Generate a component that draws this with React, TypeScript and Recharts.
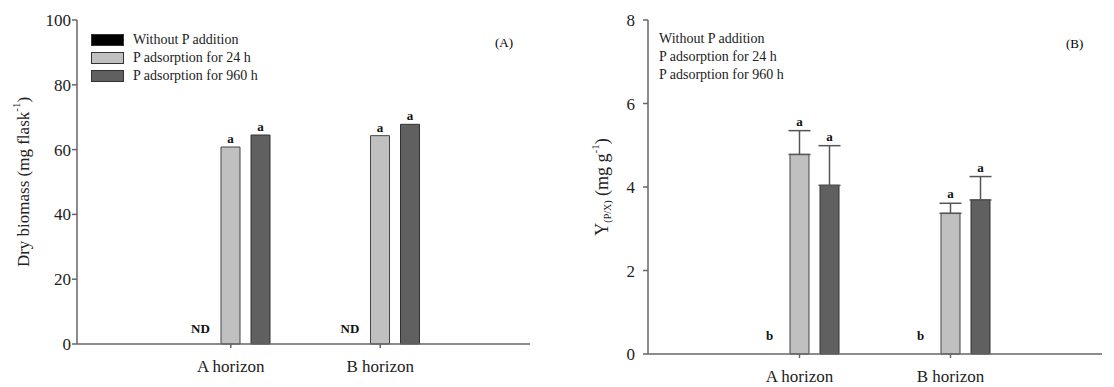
import { BarChart, Bar, XAxis, YAxis, ErrorBar, LabelList } from 'recharts'

const HORIZONS = ['A horizon', 'B horizon']
const SERIES_NAMES = ['Without P addition', 'P adsorption for 24 h', 'P adsorption for 960 h']

// (A) dry biomass, mg flask-1
const BIOMASS_NONE = [0, 0]
const BIOMASS_24H = [60.8, 64.3]
const BIOMASS_960H = [64.5, 67.8]
const BIOMASS_LETTERS_NONE = ['ND', 'ND']
const BIOMASS_LETTERS_24H = ['a', 'a']
const BIOMASS_LETTERS_960H = ['a', 'a']
const BIOMASS_TICKS = [0, 20, 40, 60, 80, 100]

// (B) Y(P/X), mg g-1
const YIELD_NONE = [0, 0]
const YIELD_24H = [4.78, 3.37]
const YIELD_960H = [4.04, 3.69]
const YIELD_24H_SE = [0.57, 0.24]
const YIELD_960H_SE = [0.95, 0.56]
const YIELD_LETTERS_NONE = ['b', 'b']
const YIELD_LETTERS_24H = ['a', 'a']
const YIELD_LETTERS_960H = ['a', 'a']
const YIELD_TICKS = [0, 2, 4, 6, 8]

const FONT = 'Liberation Serif'
const AXIS = '#666'
const COLORS = ['#000000', '#c0c0c0', '#606060']
const BAR_STEP = 30 // barSize + barGap

const biomassData = HORIZONS.map((h, i) => ({
  horizon: h,
  none: BIOMASS_NONE[i],
  h24: BIOMASS_24H[i],
  h960: BIOMASS_960H[i],
}))

const yieldData = HORIZONS.map((h, i) => ({
  horizon: h,
  none: YIELD_NONE[i],
  h24: YIELD_24H[i],
  h960: YIELD_960H[i],
  err24: [0, YIELD_24H_SE[i]],
  err960: [0, YIELD_960H_SE[i]],
}))

const letterText = (x: number, y: number, s: string) => (
  <text x={x} y={y} textAnchor="middle" fontWeight="bold" fontSize={13} fontFamily={FONT} fill="#111">
    {s}
  </text>
)

// letter above a bar (or above its error bar)
const letterLabel = (letters: string[], errs?: number[]) => (props: any) => {
  const { x, y, width, height, value, index } = props
  const v = Number(value)
  let top = Number(y)
  if (errs && v) top -= (errs[index] * Number(height)) / v
  return letterText(Number(x) + Number(width) / 2, top - (errs ? 5 : 4), letters[index])
}

// zero bars are not drawn, so their letters hang off the neighbouring bar's geometry
const emptyLabel = (letters: string[], values: number[], lift: number) => (props: any) => {
  const { x, y, width, height, index } = props
  if (values[index] !== 0) return null
  const base = Number(y) + Number(height)
  return letterText(Number(x) + Number(width) / 2 - BAR_STEP, base - lift, letters[index])
}

const tickStyle = { fill: '#222', fontSize: 17, fontFamily: FONT }

function BiomassLabel(props: any) {
  const { viewBox } = props
  const cx = 23
  const cy = viewBox.y + viewBox.height / 2
  return (
    <text
      x={cx}
      y={cy}
      transform={`rotate(-90, ${cx}, ${cy})`}
      textAnchor="middle"
      dominantBaseline="central"
      fontSize={17}
      fontFamily={FONT}
      fill="#222"
    >
      Dry biomass (mg flask
      <tspan dy={-7} fontSize={11}>-1</tspan>
      <tspan dy={7}>)</tspan>
    </text>
  )
}

function YieldLabel(props: any) {
  const { viewBox } = props
  const cx = 42
  const cy = viewBox.y + viewBox.height / 2
  return (
    <text
      x={cx}
      y={cy}
      transform={`rotate(-90, ${cx}, ${cy})`}
      textAnchor="middle"
      dominantBaseline="central"
      fontSize={18}
      fontFamily={FONT}
      fill="#222"
    >
      Y
      <tspan dy={5} fontSize={10}>(P/X)</tspan>
      <tspan dy={-5}> (mg g</tspan>
      <tspan dy={-7} fontSize={11}>-1</tspan>
      <tspan dy={7}>)</tspan>
    </text>
  )
}

function LegendBlock({ left, top, swatches }: { left: number; top: number; swatches: boolean }) {
  return (
    <div style={{ position: 'absolute', left, top, fontFamily: FONT, fontSize: 14, lineHeight: '18px', color: '#222' }}>
      {SERIES_NAMES.map((name, i) => (
        <div key={name} style={{ display: 'flex', alignItems: 'center', height: 18, whiteSpace: 'nowrap' }}>
          {swatches && (
            <span
              style={{
                display: 'inline-block',
                width: 31,
                height: 10,
                background: COLORS[i],
                border: '1px solid #333',
                marginRight: 9,
              }}
            />
          )}
          <span>{name}</span>
        </div>
      ))}
    </div>
  )
}

export default function App() {
  return (
    <div style={{ position: 'absolute', left: 0, top: 0, width: 1114, height: 387, background: '#fff', fontFamily: FONT }}>
      <div style={{ position: 'absolute', left: 0, top: 0 }}>
        <BarChart
          width={560}
          height={387}
          data={biomassData}
          margin={{ top: 20, right: 30, bottom: 0, left: 0 }}
          barSize={19}
          barGap={11}
          style={{ fontFamily: FONT }}
        >
          <XAxis
            dataKey="horizon"
            padding={{ left: 79, right: 75 }}
            stroke={AXIS}
            strokeWidth={1.5}
            tickSize={4}
            tickMargin={12}
            tick={tickStyle}
            height={43}
          />
          <XAxis xAxisId="top" orientation="top" dataKey="horizon" tick={false} tickLine={false} height={0} stroke={AXIS} strokeWidth={1.5} />
          <YAxis
            domain={[0, 100]}
            ticks={BIOMASS_TICKS}
            width={77}
            stroke={AXIS}
            strokeWidth={1.5}
            tickSize={5}
            tickMargin={1}
            tick={tickStyle}
            label={<BiomassLabel />}
          />
          <YAxis yAxisId="right" orientation="right" tick={false} tickLine={false} width={0} stroke={AXIS} strokeWidth={1.5} />
          <Bar dataKey="none" fill={COLORS[0]} stroke="#333" isAnimationActive={false} />
          <Bar dataKey="h24" fill={COLORS[1]} stroke="#444" isAnimationActive={false}>
            <LabelList dataKey="h24" content={letterLabel(BIOMASS_LETTERS_24H)} />
            <LabelList dataKey="h24" content={emptyLabel(BIOMASS_LETTERS_NONE, BIOMASS_NONE, 11)} />
          </Bar>
          <Bar dataKey="h960" fill={COLORS[2]} stroke="#333" isAnimationActive={false}>
            <LabelList dataKey="h960" content={letterLabel(BIOMASS_LETTERS_960H)} />
          </Bar>
        </BarChart>
        <LegendBlock left={91} top={31} swatches />
        <div style={{ position: 'absolute', left: 495, top: 35, fontSize: 13, fontFamily: FONT }}>(A)</div>
      </div>

      <div style={{ position: 'absolute', left: 560, top: 0 }}>
        <BarChart
          width={554}
          height={387}
          data={yieldData}
          margin={{ top: 20, right: 12, bottom: 0, left: 0 }}
          barSize={19}
          barGap={11}
          style={{ fontFamily: FONT }}
        >
          <XAxis
            dataKey="horizon"
            padding={{ left: 76, right: 76 }}
            stroke={AXIS}
            strokeWidth={1.5}
            tickSize={4}
            tickMargin={12}
            tick={tickStyle}
            height={33}
          />
          <XAxis xAxisId="top" orientation="top" dataKey="horizon" tick={false} tickLine={false} height={0} stroke={AXIS} strokeWidth={1.5} />
          <YAxis
            domain={[0, 8]}
            ticks={YIELD_TICKS}
            width={88}
            stroke={AXIS}
            strokeWidth={1.5}
            tickSize={5}
            tickMargin={8}
            tick={tickStyle}
            label={<YieldLabel />}
          />
          <YAxis yAxisId="right" orientation="right" tick={false} tickLine={false} width={0} stroke={AXIS} strokeWidth={1.5} />
          <Bar dataKey="none" fill={COLORS[0]} stroke="#333" isAnimationActive={false} />
          <Bar dataKey="h24" fill={COLORS[1]} stroke="#444" isAnimationActive={false}>
            <ErrorBar dataKey="err24" direction="y" width={11} stroke="#555" strokeWidth={1.5} isAnimationActive={false} />
            <LabelList dataKey="h24" content={letterLabel(YIELD_LETTERS_24H, YIELD_24H_SE)} />
            <LabelList dataKey="h24" content={emptyLabel(YIELD_LETTERS_NONE, YIELD_NONE, 14)} />
          </Bar>
          <Bar dataKey="h960" fill={COLORS[2]} stroke="#333" isAnimationActive={false}>
            <ErrorBar dataKey="err960" direction="y" width={11} stroke="#555" strokeWidth={1.5} isAnimationActive={false} />
            <LabelList dataKey="h960" content={letterLabel(YIELD_LETTERS_960H, YIELD_960H_SE)} />
          </Bar>
        </BarChart>
        <LegendBlock left={99} top={30} swatches={false} />
        <div style={{ position: 'absolute', left: 506, top: 36, fontSize: 13, fontFamily: FONT }}>(B)</div>
      </div>
    </div>
  )
}
